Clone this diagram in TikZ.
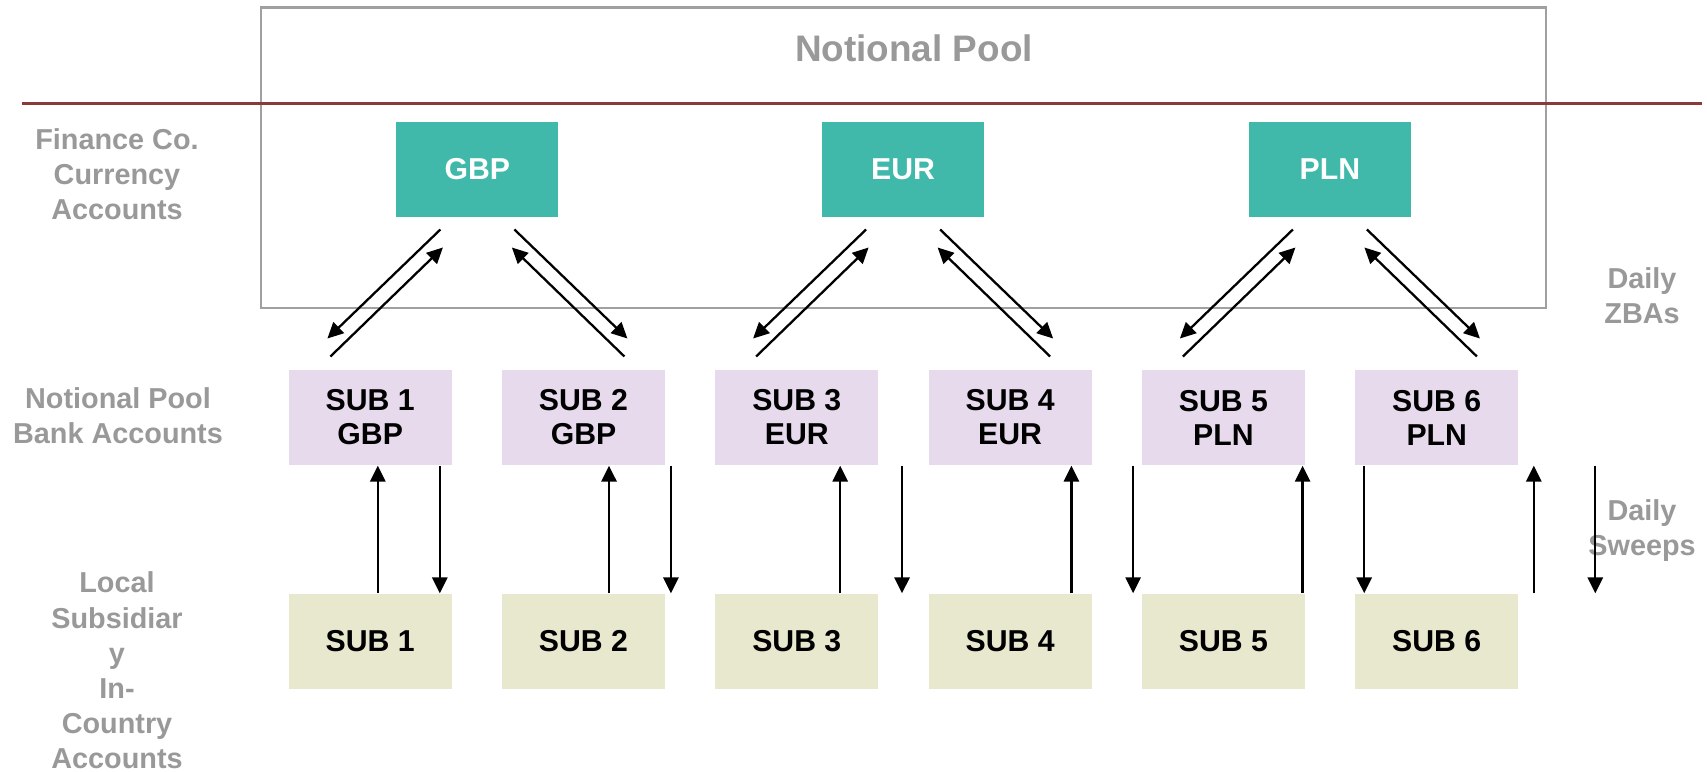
\documentclass[tikz,border=0pt]{standalone}
\usepackage{fontspec}
\setmainfont{Liberation Sans}
\usetikzlibrary{arrows.meta,
                calc}

\definecolor{tealacct}{HTML}{40B9AA}
\definecolor{lavacct}{HTML}{E6DAEC}
\definecolor{beigeacct}{HTML}{E8E8CF}
\definecolor{labelgray}{HTML}{999999}
\definecolor{framegray}{HTML}{A0A0A0}
\definecolor{rulered}{HTML}{8B3A3A}

\begin{document}
\begin{tikzpicture}%
    [scale = 1,
     topacct/.style = {fill=tealacct, text=white, minimum width=1.62cm, minimum height=0.95cm,
                       inner sep=0pt, font=\fontsize{8.6}{9.7}\selectfont\bfseries},
     poolacct/.style = {fill=lavacct, minimum width=1.63cm, minimum height=0.95cm,
                        inner sep=0pt, align=center, font=\fontsize{8.6}{9.7}\selectfont\bfseries},
     localacct/.style = {fill=beigeacct, minimum width=1.63cm, minimum height=0.95cm,
                         inner sep=0pt, font=\fontsize{8.6}{9.7}\selectfont\bfseries},
     sidelabel/.style = {text=labelgray, align=center, inner sep=0pt,
                         font=\fontsize{8.2}{10}\selectfont\bfseries},
     flow/.style = {-{Triangle[length=4.5pt,width=4.3pt]}, line width=0.65pt}]
    \useasboundingbox (0,0) rectangle (17.07,7.71);

    % notional pool frame and divider
    \draw [framegray, line width=0.65pt] (2.61,7.634) rectangle (15.46,4.63);
    \node [text=labelgray, font=\fontsize{10.5}{12}\selectfont\bfseries] (pooltitle) at (9.14,7.23) {Notional Pool};
    \draw [rulered, line width=0.85pt] (0.22,6.675) -- (17.02,6.675);

    % finance co. currency accounts
    \node [topacct] (gbp) at (4.774,6.017) {GBP};
    \node [topacct] (eur) at (9.031,6.017) {EUR};
    \node [topacct] (pln) at (13.299,6.017) {PLN};

    % bank accounts and in-country accounts
    \foreach \i/\cur in {1/GBP,2/GBP,3/EUR,4/EUR,5/PLN,6/PLN}{
        \node [poolacct] (np\i) at ({3.702+2.133*(\i-1)},3.535) {SUB \i\\\cur};
        \node [localacct] (loc\i) at ({3.702+2.133*(\i-1)},1.295) {SUB \i};
    }

    % row labels
    \node [sidelabel] (fincolabel) at (1.17,5.97) {Finance Co.\\Currency\\Accounts};
    \node [sidelabel] (poollabel) at (1.18,3.55) {Notional Pool\\Bank Accounts};
    \node [sidelabel] (locallabel) at (1.17,1.005) {Local\\Subsidiar\\y\\In-\\Country\\Accounts};
    \node [sidelabel] (zbalabel) at (16.42,4.75) {Daily\\ZBAs};
    \node [sidelabel] (sweeplabel) at (16.42,2.405) {Daily\\Sweeps};

    % daily ZBAs
    \foreach \t in {gbp,eur,pln}{
        \foreach \s in {-1,1}{
            \draw [flow] ($(\t.south)+({\s*0.37},-0.12)$) -- ($(\t.south)+({\s*1.50},-1.21)$);
            \draw [flow] ($(\t.south)+({\s*1.47},-1.39)$) -- ($(\t.south)+({\s*0.345},-0.30)$);
        }
    }

    % daily sweeps
    \foreach \k in {0,...,5}{
        \pgfmathsetmacro\upx{3.778+2.312*\k}
        \pgfmathsetmacro\downx{4.398+2.311*\k}
        \draw [flow] (\upx,0 |- loc1.north) -- (\upx,0 |- np1.south);
        \draw [flow] (\downx,0 |- np1.south) -- (\downx,0 |- loc1.north);
    }
\end{tikzpicture}
\end{document}
